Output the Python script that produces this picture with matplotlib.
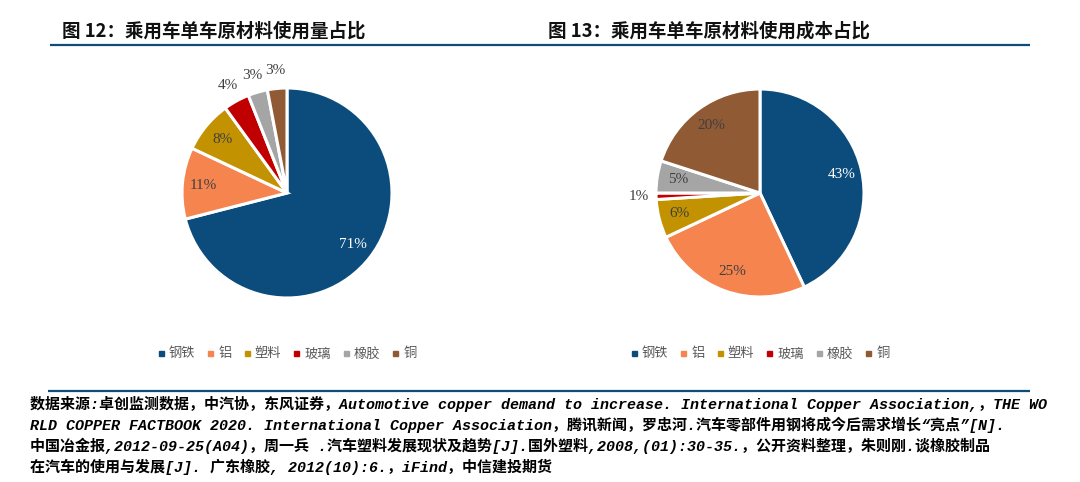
import matplotlib
matplotlib.use("Agg")
import numpy as np
from matplotlib import pyplot as plt
from matplotlib.lines import Line2D

plt.rcParams['font.family'] = ['Noto Sans CJK SC', 'DejaVu Sans']

materials = ['钢铁', '铝', '塑料', '玻璃', '橡胶', '铜']
colors = ['#0B4C7C', '#F5844E', '#C29200', '#C00000', '#A5A5A5', '#8F5A34']
usage_share = [71, 11, 8, 4, 3, 3]
cost_share = [43, 25, 6, 1, 5, 20]

title_left = '图 12：乘用车单车原材料使用量占比'
title_right = '图 13：乘用车单车原材料使用成本占比'
source_lines = [
    '数据来源:卓创监测数据，中汽协，东风证券，Automotive copper demand to increase. International Copper Association,，THE WO',
    'RLD COPPER FACTBOOK 2020. International Copper Association，腾讯新闻，罗忠河.汽车零部件用钢将成今后需求增长“亮点”[N].',
    '中国冶金报,2012-09-25(A04)，周一兵 .汽车塑料发展现状及趋势[J].国外塑料,2008,(01):30-35.，公开资料整理，朱则刚.谈橡胶制品',
    '在汽车的使用与发展[J]. 广东橡胶, 2012(10):6.，iFind，中信建投期货',
]

W, H = 1080, 482
fig = plt.figure(figsize=(W / 100, H / 100), dpi=100)

# background axes in pixel coords for titles, rules and source text
bg = fig.add_axes([0, 0, 1, 1])
bg.set_xlim(0, W)
bg.set_ylim(H, 0)
bg.axis('off')

line_color = '#0F4C7A'
bg.plot([50, 1030], [45, 45], color=line_color, lw=1.6, solid_capstyle='butt')
bg.plot([48, 1030], [391, 391], color=line_color, lw=1.6, solid_capstyle='butt')

bg.text(62, 31, title_left, fontsize=13.3, fontweight='bold', va='center', ha='left', color='#111111')
bg.text(548, 31, title_right, fontsize=13.3, fontweight='bold', va='center', ha='left', color='#111111')

src_font = ['Liberation Mono', 'Noto Sans CJK SC']
for i, line in enumerate(source_lines):
    bg.text(30, 404 + i * 21, line, fontsize=10.8, family=src_font, style='italic',
            fontweight='bold', va='center', ha='left', color='black')


def draw_pie(cx, cy, r, values, legend_y):
    ax = fig.add_axes([(cx - r) / W, 1 - (cy + r) / H, 2 * r / W, 2 * r / H])
    wedges, _ = ax.pie(values, colors=colors, startangle=90, counterclock=False,
                       wedgeprops=dict(edgecolor='white', linewidth=2.2))
    ax.set_xlim(-1, 1)
    ax.set_ylim(-1, 1)
    ax.set_aspect('equal')
    ax.axis('off')
    for k, (w, v) in enumerate(zip(wedges, values)):
        ang = np.deg2rad((w.theta1 + w.theta2) / 2)
        d = 0.8 if v >= 5 else 1.17
        txt_color = 'white' if k == 0 else '#404040'
        ax.text(d * np.cos(ang), d * np.sin(ang), f'{v}%', ha='center', va='center',
                fontsize=11, family='Liberation Serif', color=txt_color, clip_on=False)
    handles = [Line2D([], [], marker='s', linestyle='none', markersize=3.6,
                      markerfacecolor=c, markeredgecolor=c) for c in colors]
    fig.legend(handles, materials, loc='center', bbox_to_anchor=(cx / W, 1 - legend_y / H),
               ncol=6, frameon=False, fontsize=9.5, labelcolor='#595959',
               handlelength=0.5, handletextpad=0.35, columnspacing=0.9)


draw_pie(287, 193, 105, usage_share, 354)
draw_pie(760, 193, 104, cost_share, 354)

fig.savefig('out.png', dpi=100)
